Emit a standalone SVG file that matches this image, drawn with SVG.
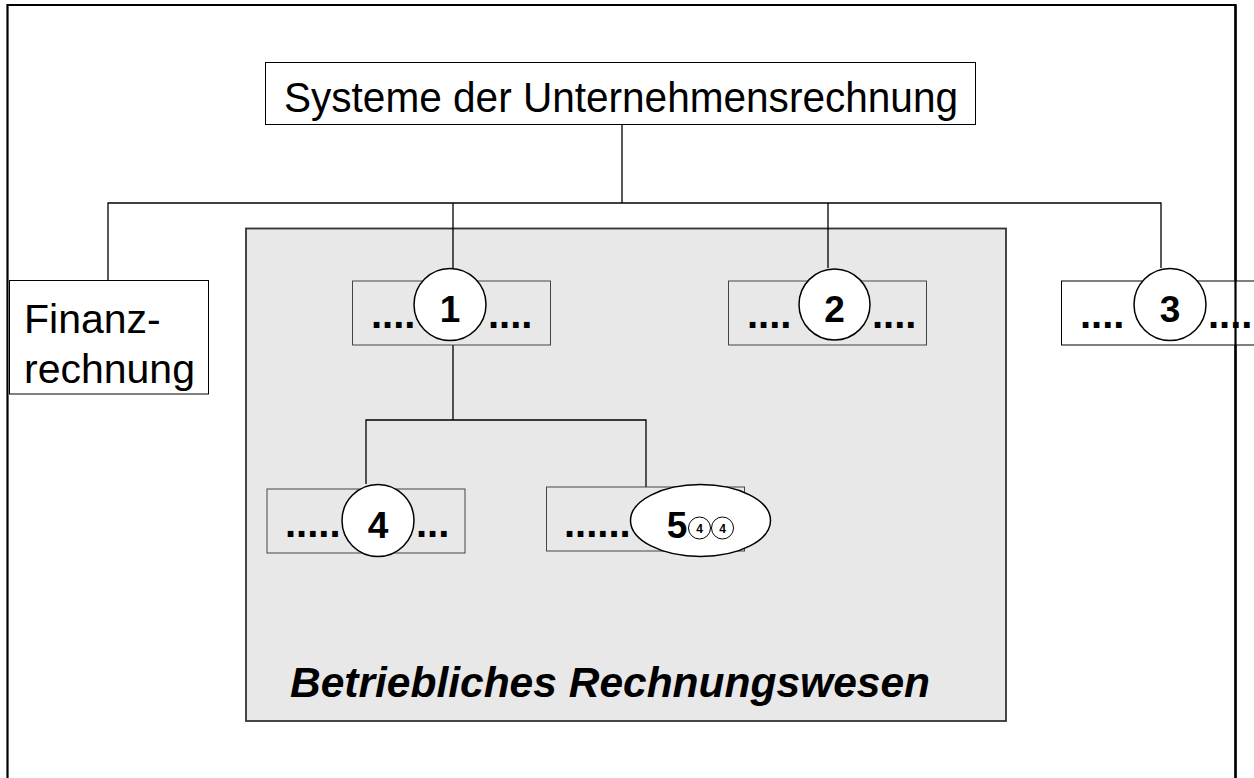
<svg xmlns="http://www.w3.org/2000/svg" width="1254" height="778" viewBox="0 0 1254 778">
<style>
.box{fill:#fff;stroke:#000;stroke-width:1}
.gbox{fill:#e8e8e8;stroke:#444;stroke-width:1}
.circ{fill:#fff;stroke:#000;stroke-width:1.5}
.ln{stroke:#000;stroke-width:1.3;fill:none}
.t{font-family:"Liberation Sans",Arial,sans-serif;fill:#000}
.dots{font-family:"Liberation Sans",Arial,sans-serif;font-weight:bold;font-size:40px;fill:#000}
.num{font-family:"Liberation Sans",Arial,sans-serif;font-weight:bold;font-size:37px;fill:#000;text-anchor:middle}
.sm{font-family:"Liberation Sans",Arial,sans-serif;font-weight:bold;font-size:12px;fill:#000;text-anchor:middle}
</style>
<rect x="0" y="0" width="1254" height="778" fill="#fff"/>
<path d="M7.5,778 V5 H1235.5 V778" fill="none" stroke="#000" stroke-width="2.2"/>
<g id="bereich">
<rect x="246" y="228.5" width="760" height="492.5" fill="#e8e8e8" stroke="#333" stroke-width="1.8"/>
<text class="t" x="290" y="697" font-size="42" font-weight="bold" font-style="italic" textLength="640" lengthAdjust="spacingAndGlyphs">Betriebliches Rechnungswesen</text>
</g>
<g id="connectors">
<path class="ln" d="M622,124 V203 M108,280 V203 H1161 V268 M453,203 V268 M828,203 V268"/>
<path class="ln" d="M453,341 V420 M366,484 V420 H646 V487"/>
</g>
<g id="root">
<rect class="box" x="265.5" y="62.5" width="710" height="62"/>
<text class="t" x="284" y="112" font-size="43" textLength="674" lengthAdjust="spacingAndGlyphs">Systeme der Unternehmensrechnung</text>
</g>
<g id="finanz">
<rect class="box" x="9.5" y="280.5" width="199" height="113.5"/>
<text class="t" x="24" y="333" font-size="41">Finanz-</text>
<text class="t" x="24" y="383" font-size="41">rechnung</text>
</g>
<g id="n1">
<rect class="gbox" x="352.5" y="281" width="198" height="64"/>
<text class="dots" x="371" y="328">....</text>
<text class="dots" x="488" y="328">....</text>
<circle class="circ" cx="450" cy="304.5" r="36"/>
<text class="num" x="450" y="322">1</text>
</g>
<g id="n2">
<rect class="gbox" x="728.5" y="281" width="198" height="64"/>
<text class="dots" x="747" y="328">....</text>
<text class="dots" x="872" y="328">....</text>
<circle class="circ" cx="834.5" cy="304.5" r="35.5"/>
<text class="num" x="834.5" y="322">2</text>
</g>
<g id="n3">
<rect class="box" x="1061.5" y="281" width="200" height="64"/>
<text class="dots" x="1080" y="328">....</text>
<text class="dots" x="1208" y="328">....</text>
<circle class="circ" cx="1170" cy="304.5" r="36"/>
<text class="num" x="1170" y="322">3</text>
</g>
<path d="M1235.5,5 V778" stroke="#000" stroke-width="2.2"/>
<g id="n4">
<rect class="gbox" x="267" y="489" width="198" height="64"/>
<text class="dots" x="285" y="537">.....</text>
<text class="dots" x="416" y="537">...</text>
<circle class="circ" cx="378" cy="520.5" r="36"/>
<text class="num" x="378" y="538">4</text>
</g>
<g id="n5">
<rect class="gbox" x="546.5" y="487" width="198" height="64"/>
<text class="dots" x="564" y="537">......</text>
<ellipse class="circ" cx="700.5" cy="520.5" rx="70" ry="36"/>
<text class="num" x="677" y="538">5</text>
<circle cx="699.5" cy="528" r="11" fill="#fff" stroke="#000" stroke-width="1"/>
<circle cx="722.5" cy="528" r="11" fill="#fff" stroke="#000" stroke-width="1"/>
<text class="sm" x="699.5" y="532.5">4</text>
<text class="sm" x="722.5" y="532.5">4</text>
</g>
</svg>
